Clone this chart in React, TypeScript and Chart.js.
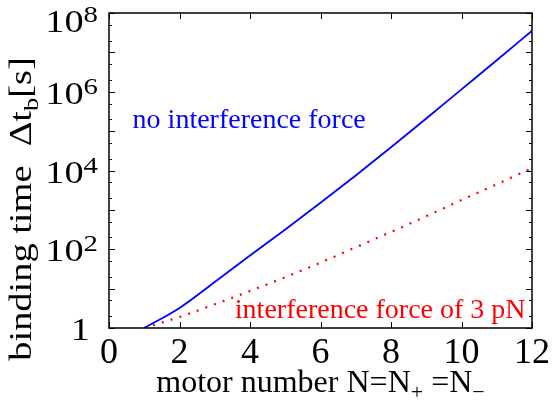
import React, { useEffect, useRef } from "react";
import { Chart, registerables } from "chart.js";

Chart.register(...registerables);

// ---- data ----
const motorNumbers = [1, 2, 3, 4, 5, 6, 7, 8, 9, 10, 11, 12];
const noForceTimes = [1, 3.24, 14.8, 69.2, 316, 1514, 7500, 38900, 209000, 1150000, 6310000, 35500000];
const forceTimes = [1, 1.9, 4.0, 8.7, 19.5, 45.7, 112, 275, 692, 1780, 4470, 11500];
const xTickValues = [0, 2, 4, 6, 8, 10, 12];
const yLabelExponents = [0, 2, 4, 6, 8];
const yMinorMantissas = [1, 2, 5];
const noForceLabel = "no interference force";
const forceLabel = "interference force of 3 pN";

const FONT = "'Liberation Serif', 'Times New Roman', serif";

type Seg = { text: string; size: number; dy?: number };

function drawRich(ctx: CanvasRenderingContext2D, segs: Seg[], x: number, y: number, align: string, sx: number, color: string) {
  let w = 0;
  const widths: number[] = [];
  for (const s of segs) {
    ctx.font = `${s.size}px ${FONT}`;
    const m = ctx.measureText(s.text).width;
    widths.push(m);
    w += m;
  }
  let cur = align === "center" ? -w / 2 : align === "right" ? -w : 0;
  ctx.save();
  ctx.translate(x, y);
  ctx.scale(sx, 1);
  ctx.fillStyle = color;
  ctx.textBaseline = "alphabetic";
  ctx.textAlign = "left";
  segs.forEach((s, i) => {
    ctx.font = `${s.size}px ${FONT}`;
    ctx.fillText(s.text, cur, s.dy || 0);
    cur += widths[i];
  });
  ctx.restore();
}

const framePlugin = {
  id: "framePlugin",
  afterDraw(chart: any) {
    const ctx: CanvasRenderingContext2D = chart.ctx;
    const a = chart.chartArea;
    const xs = chart.scales.x;
    const ys = chart.scales.y;
    ctx.save();
    ctx.strokeStyle = "#000";
    ctx.lineWidth = 1;
    ctx.beginPath();
    for (const t of ys.ticks) {
      const v = t.value;
      const py = Math.round(ys.getPixelForValue(v)) + 0.5;
      const lg = Math.log10(v);
      const major = Math.abs(lg - Math.round(lg)) < 1e-9;
      const len = major ? 6 : 3;
      ctx.moveTo(a.left, py);
      ctx.lineTo(a.left + len, py);
      ctx.moveTo(a.right, py);
      ctx.lineTo(a.right - len, py);
    }
    for (const t of xs.ticks) {
      const px = Math.round(xs.getPixelForValue(t.value)) + 0.5;
      ctx.moveTo(px, a.bottom);
      ctx.lineTo(px, a.bottom - 6);
      ctx.moveTo(px, a.top);
      ctx.lineTo(px, a.top + 6);
    }
    ctx.stroke();
    ctx.lineWidth = 1.5;
    ctx.strokeRect(a.left, a.top, a.right - a.left, a.bottom - a.top);
    ctx.restore();

    // y tick labels
    for (const e of yLabelExponents) {
      const py = ys.getPixelForValue(Math.pow(10, e));
      const base = Math.max(py + 12, 32);
      if (e === 0) {
        drawRich(ctx, [{ text: "1", size: 32 }], 90, base, "right", 1.2, "#000");
      } else {
        drawRich(ctx, [{ text: "10", size: 32 }, { text: String(e), size: 24, dy: -10 }], 98, base, "right", 1.2, "#000");
      }
    }

    // x title
    drawRich(
      ctx,
      [
        { text: "motor number N=N", size: 32 },
        { text: "+", size: 22, dy: 7 },
        { text: " =N", size: 32 },
        { text: "\u2212", size: 22, dy: 7 },
      ],
      (a.left + a.right) / 2,
      392,
      "center",
      1,
      "#000"
    );

    // y title (rotated)
    ctx.save();
    ctx.translate(31, 209);
    ctx.rotate(-Math.PI / 2);
    drawRich(
      ctx,
      [
        { text: "binding time  \u0394t", size: 32 },
        { text: "b", size: 22, dy: 7 },
        { text: "[s]", size: 32 },
      ],
      0,
      0,
      "center",
      1.2,
      "#000"
    );
    ctx.restore();

    // annotations
    drawRich(ctx, [{ text: noForceLabel, size: 28 }], xs.getPixelForValue(0.67), ys.getPixelForValue(Math.pow(10, 5.08)), "left", 1, "#0000ff");
    drawRich(ctx, [{ text: forceLabel, size: 28 }], xs.getPixelForValue(3.57), ys.getPixelForValue(Math.pow(10, 0.25)), "left", 1, "#ff0000");
  },
};

export default function App() {
  const ref = useRef<HTMLCanvasElement | null>(null);
  useEffect(() => {
    if (!ref.current) return;
    const chart = new Chart(ref.current, {
      type: "line",
      data: {
        datasets: [
          {
            label: noForceLabel,
            data: motorNumbers.map((n, i) => ({ x: n, y: noForceTimes[i] })),
            borderColor: "#0000ff",
            borderWidth: 1.8,
            pointRadius: 0,
            cubicInterpolationMode: "monotone",
            fill: false,
          },
          {
            label: forceLabel,
            data: motorNumbers.map((n, i) => ({ x: n, y: forceTimes[i] })),
            borderColor: "#ff0000",
            borderWidth: 2.2,
            borderDash: [2, 7.2],
            pointRadius: 0,
            cubicInterpolationMode: "monotone",
            fill: false,
          },
        ],
      },
      options: {
        animation: false,
        responsive: true,
        maintainAspectRatio: false,
        layout: { padding: { left: 0, top: 13, right: 14, bottom: 0 } },
        plugins: { legend: { display: false }, tooltip: { enabled: false } },
        scales: {
          x: {
            type: "linear",
            min: 0,
            max: 12,
            grid: { display: false, drawTicks: false },
            border: { display: false },
            afterBuildTicks: (s: any) => {
              s.ticks = xTickValues.map((v) => ({ value: v }));
            },
            afterFit: (s: any) => {
              s.height = 73;
            },
            ticks: {
              color: "#000",
              padding: 4,
              maxRotation: 0,
              font: { family: FONT, size: 36 },
            },
          },
          y: {
            type: "logarithmic",
            min: 1,
            max: 1e8,
            grid: { display: false, drawTicks: false },
            border: { display: false },
            afterBuildTicks: (s: any) => {
              const t: any[] = [];
              for (let e = 0; e <= 8; e++) {
                for (const m of yMinorMantissas) {
                  const v = m * Math.pow(10, e);
                  if (v <= 1e8) t.push({ value: v });
                }
              }
              s.ticks = t;
            },
            afterFit: (s: any) => {
              s.width = 109;
            },
            ticks: { display: false },
          },
        },
      },
      plugins: [framePlugin],
    } as any);
    return () => chart.destroy();
  }, []);
  return (
    <div style={{ position: "fixed", left: 0, top: 0, width: 554, height: 401, background: "#fff" }}>
      <canvas ref={ref} />
    </div>
  );
}
